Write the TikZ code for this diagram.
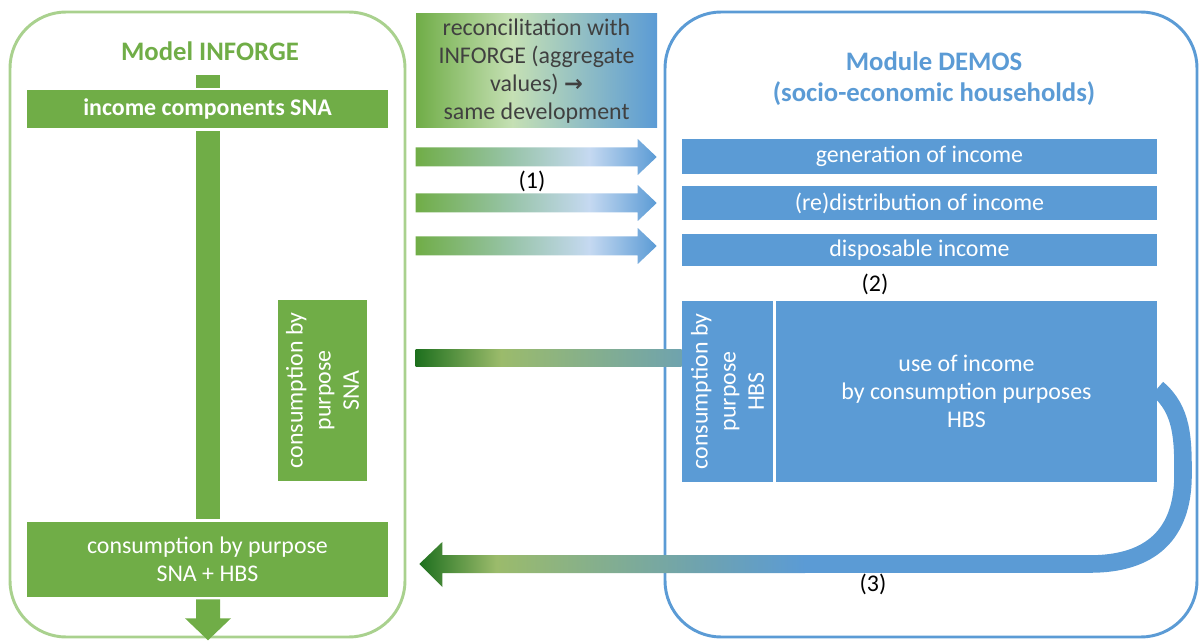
\documentclass[tikz,border=0pt]{standalone}
\usepackage{fontspec}
\setmainfont{Carlito}
\newfontfamily\arrowfont{DejaVu Sans}
\usetikzlibrary{fit,calc}

\definecolor{inforge}{RGB}{112,173,71}
\definecolor{inforgeline}{RGB}{169,209,142}
\definecolor{demos}{RGB}{91,155,213}
\definecolor{palegreen}{RGB}{197,224,180}
\definecolor{paleblue}{RGB}{197,217,241}
\definecolor{midgreen}{RGB}{150,195,165}
\definecolor{darkgreen}{RGB}{30,112,30}
\definecolor{olivegreen}{RGB}{155,187,107}
\definecolor{hbsteal}{RGB}{111,163,174}
\definecolor{textgray}{RGB}{64,64,64}

\pgfdeclarehorizontalshading{reconshade}{100bp}{color(0bp)=(inforge); color(25bp)=(inforge); color(45bp)=(palegreen); color(75bp)=(demos); color(100bp)=(demos)}
\pgfdeclarehorizontalshading{incomeshade}{100bp}{color(0bp)=(inforge); color(25bp)=(inforge); color(44bp)=(midgreen); color(61bp)=(paleblue); color(75bp)=(demos); color(100bp)=(demos)}
\pgfdeclarehorizontalshading{feedbackshade}{100bp}{color(0bp)=(darkgreen); color(25bp)=(darkgreen); color(35bp)=(olivegreen); color(61bp)=(hbsteal); color(75bp)=(demos); color(100bp)=(demos)}
\pgfdeclarehorizontalshading{linkshade}{100bp}{color(0bp)=(darkgreen); color(25bp)=(darkgreen); color(41bp)=(olivegreen); color(75bp)=(hbsteal); color(100bp)=(hbsteal)}

\begin{document}
\begin{tikzpicture}[x=0.025cm,y=-0.025cm,
  every node/.style={font=\fontsize{17}{20}\selectfont},
  title/.style={font=\fontsize{19}{22}\selectfont\bfseries},
  frame/.style={draw,line width=2.1pt,rounded corners=40pt,inner sep=0pt},
  greenbox/.style={fill=inforge,text=white,inner sep=0pt,align=center},
  bluebox/.style={fill=demos,text=white,inner sep=0pt,align=center}]

\useasboundingbox (0,0) rectangle (1200,642);

% Model INFORGE
\node (inforgeframe) [frame,inforgeline,fit={(10,12) (405,637)}] {};
\node (inforgetitle) at (210,51) [title,text=inforge] {Model INFORGE};
\fill[inforge] (196,75) rectangle (220,88);
\fill[inforge] (196,131) rectangle (220,519);
\node (income) [greenbox,fit={(27,90) (388,128)}] {};
\node at (income) [text=white,font=\fontsize{17}{20}\selectfont\bfseries] {income components SNA};
\node (snacons) [greenbox,fit={(278,300) (367,481)}] {};
\node at (snacons) [rotate=90,text=white,align=center] {consumption by\\purpose\\SNA};
\node (total) [greenbox,fit={(27,522) (388,597)}] {};
\node at (total) [text=white,align=center] {consumption by purpose\\SNA + HBS};
\coordinate (outtip) at ($(total.south)+(0.5,43)$);
\fill[inforge] ($(outtip)+(-12,-41)$) -- ($(outtip)+(12,-41)$) -- ($(outtip)+(12,-22)$)
  -- ($(outtip)+(23,-22)$) -- (outtip) -- ($(outtip)+(-23,-22)$) -- ($(outtip)+(-12,-22)$) -- cycle;


% Module DEMOS
\node (demosframe) [frame,demos,fit={(665,12) (1197,637)}] {};
\node (demostitle) at (934,61) [title,text=demos] {Module DEMOS};
\node (demossub) at (934,94) [title,text=demos] {(socio-economic households)};
\node (gen) [bluebox,fit={(682,139) (1157,174)}] {};
\node at (gen) [text=white] {generation of income};
\node (redist) [bluebox,fit={(682,186) (1157,220)}] {};
\node at (redist) [text=white] {(re)distribution of income};
\node (disp) [bluebox,fit={(682,234) (1157,266)}] {};
\node at (disp) [text=white] {disposable income};
\node (hbs) [bluebox,fit={(682,301) (773,482)}] {};
\node at (hbs) [rotate=90,text=white,align=center] {consumption by\\purpose\\HBS};
\node (use) [bluebox,fit={(776,301) (1157,482)}] {};
\node at (use) [text=white,align=center] {use of income\\by consumption purposes\\HBS};


% Reconciliation
\node (recon) [shading=reconshade,inner sep=0pt,fit={(416,14) (657,128)}] {};
\node at (recon) [text=textgray,align=center] {reconcilitation with\\INFORGE (aggregate\\values) {\arrowfont\bfseries\fontsize{16}{20}\selectfont →}\\same development};

\coordinate (tipa) at ($(gen.west)+(-25,0.5)$);
\coordinate (taila) at (recon.west |- tipa);
\shade[shading=incomeshade] ($(taila)+(0,-9.5)$) -- ($(tipa)+(-19,-9.5)$) -- ($(tipa)+(-19,-18)$) -- (tipa)
  -- ($(tipa)+(-19,18)$) -- ($(tipa)+(-19,9.5)$) -- ($(taila)+(0,9.5)$) -- cycle;
\coordinate (tipb) at ($(redist.west)+(-25,0)$);
\coordinate (tailb) at (recon.west |- tipb);
\shade[shading=incomeshade] ($(tailb)+(0,-9.5)$) -- ($(tipb)+(-19,-9.5)$) -- ($(tipb)+(-19,-18)$) -- (tipb)
  -- ($(tipb)+(-19,18)$) -- ($(tipb)+(-19,9.5)$) -- ($(tailb)+(0,9.5)$) -- cycle;
\coordinate (tipc) at ($(disp.west)+(-25,-4)$);
\coordinate (tailc) at (recon.west |- tipc);
\shade[shading=incomeshade] ($(tailc)+(0,-9.5)$) -- ($(tipc)+(-19,-9.5)$) -- ($(tipc)+(-19,-18)$) -- (tipc)
  -- ($(tipc)+(-19,18)$) -- ($(tipc)+(-19,9.5)$) -- ($(tailc)+(0,9.5)$) -- cycle;

% Consumption link
\shade[shading=linkshade] (recon.west |- 0,349) rectangle (hbs.west |- 0,366);

% Feedback
\draw[demos,line width=12.5pt] ($(use.east)+(0,-3)$) .. controls (1183,410) and (1183,440) .. (1183,475)
  .. controls (1183,535) and (1150,564) .. (1090,564) -- (800,564);
\coordinate (fbtip) at ($(total.east)+(31,4.5)$);
\shade[shading=feedbackshade] (fbtip) -- ($(fbtip)+(23,-22)$) -- ($(fbtip)+(23,-9)$) -- (805,555)
  -- (805,573) -- ($(fbtip)+(23,9)$) -- ($(fbtip)+(23,23)$) -- cycle;

% Labels
\node (labela) at (532,181) {(1)};
\node (labelb) at (875,284) {(2)};
\node (labelc) at (873,584) {(3)};

\end{tikzpicture}
\end{document}
